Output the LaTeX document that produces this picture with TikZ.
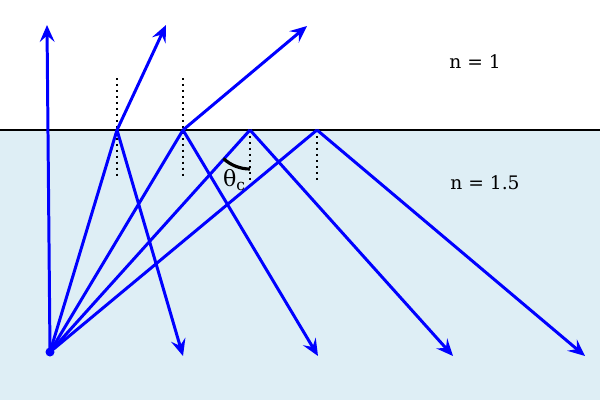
\documentclass[tikz,border=0pt]{standalone}
\usepackage{fontspec}
\setmainfont{DejaVu Serif}
\usetikzlibrary{arrows.meta}
\begin{document}
\begin{tikzpicture}[x=0.01cm,y=-0.01cm,
 ray/.style={draw=blue,line width=0.85pt,-{Stealth[length=4.8pt,width=4.2pt,inset=1.8pt]}},
 seg/.style={draw=blue,line width=0.85pt},
 normal/.style={draw=black,dash pattern=on 0.6pt off 1.1pt,line width=0.55pt},
 lbl/.style={font=\fontsize{5.3}{6.5}\selectfont}]
\useasboundingbox (0,0) rectangle (600,400);
\fill[fill={rgb,255:red,222;green,238;blue,245}] (0,130) rectangle (600,400);
\draw[line width=0.45pt] (0,130) -- (600,130);
\coordinate (s) at (50,352);
\coordinate (p1) at (117,130);
\coordinate (p2) at (183,130);
\coordinate (p3) at (250,130);
\coordinate (p4) at (317,130);
\coordinate (t0) at (47,25);
\coordinate (t1) at (166,25);
\coordinate (t2) at (307,26);
\coordinate (r1) at (183,356);
\coordinate (r2) at (318,356);
\coordinate (r3) at (453,356);
\coordinate (r4) at (585,356);
\draw[normal] (117,78) -- (117,178);
\draw[normal] (183,78) -- (183,178);
\draw[normal] (250,130) -- (250,180);
\draw[normal] (317,130) -- (317,180);
\draw[ray] (s) -- (t0);
\draw[seg] (s) -- (p1); \draw[ray] (p1) -- (t1); \draw[ray] (p1) -- (r1);
\draw[seg] (s) -- (p2); \draw[ray] (p2) -- (t2); \draw[ray] (p2) -- (r2);
\draw[seg] (s) -- (p3); \draw[ray] (p3) -- (r3);
\draw[seg] (s) -- (p4); \draw[ray] (p4) -- (r4);
\fill[blue] (s) circle (4.5);
\draw[line width=0.9pt] (p3) ++(133:39) arc[start angle=133,end angle=90,radius=39];
\node[lbl,font=\fontsize{6.3}{7.5}\selectfont] (tc) at (235,180) {θ\textsubscript{c}};
\node[lbl] (n1) at (475,62) {n = 1};
\node[lbl] (n2) at (485,183) {n = 1.5};
\end{tikzpicture}
\end{document}
